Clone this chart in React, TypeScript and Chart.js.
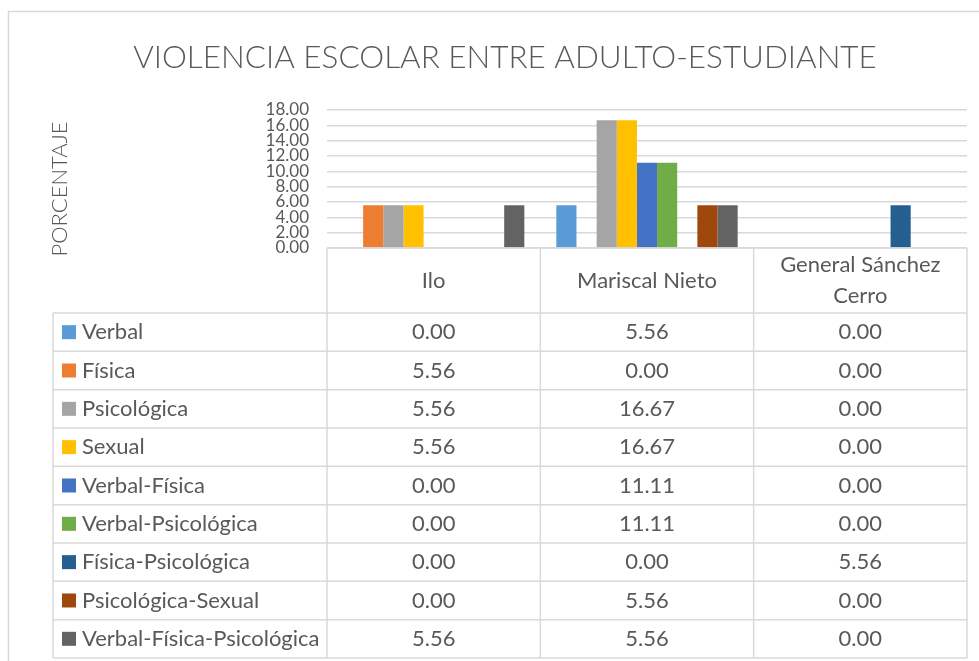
import React, { useEffect, useRef } from 'react';
import { Chart, registerables } from 'chart.js';

Chart.register(...registerables);

const TITLE = 'VIOLENCIA ESCOLAR ENTRE ADULTO-ESTUDIANTE';
const Y_TITLE = 'PORCENTAJE';
const categories = [['Ilo'], ['Mariscal Nieto'], ['General Sánchez', 'Cerro']];
const seriesNames = [
  'Verbal',
  'Física',
  'Psicológica',
  'Sexual',
  'Verbal-Física',
  'Verbal-Psicológica',
  'Física-Psicológica',
  'Psicológica-Sexual',
  'Verbal-Física-Psicológica',
];
const seriesColors = [
  '#5B9BD5',
  '#ED7D31',
  '#A5A5A5',
  '#FFC000',
  '#4472C4',
  '#70AD47',
  '#255E91',
  '#9E480E',
  '#636363',
];
const verbal = [0.0, 5.56, 0.0];
const fisica = [5.56, 0.0, 0.0];
const psicologica = [5.56, 16.67, 0.0];
const sexual = [5.56, 16.67, 0.0];
const verbalFisica = [0.0, 11.11, 0.0];
const verbalPsicologica = [0.0, 11.11, 0.0];
const fisicaPsicologica = [0.0, 0.0, 5.56];
const psicologicaSexual = [0.0, 5.56, 0.0];
const verbalFisicaPsicologica = [5.56, 5.56, 0.0];
const seriesValues = [
  verbal,
  fisica,
  psicologica,
  sexual,
  verbalFisica,
  verbalPsicologica,
  fisicaPsicologica,
  psicologicaSexual,
  verbalFisicaPsicologica,
];
const yTicks = [0, 2, 4, 6, 8, 10, 12, 14, 16, 18];

const TEXT = '#595959';
const LINE = '#d9d9d9';
const FONT = 'Lato, "Open Sans", sans-serif';

const tablePlugin = {
  id: 'dataTableAndFrame',
  afterDraw(chart: any) {
    const ctx = chart.ctx as CanvasRenderingContext2D;
    const xs = chart.scales.x;
    const area = chart.chartArea;
    const n = categories.length;
    const catW = (xs.right - xs.left) / n;
    const tableLeft = 53;
    const headerTop = area.bottom;
    const headerBottom = 313;
    const rowH = 38.33;
    const tableBottom = headerBottom + rowH * seriesNames.length;
    const colEdges: number[] = [];
    for (let i = 0; i <= n; i++) {
      const c = i < n ? xs.getPixelForValue(i) - catW / 2 : xs.getPixelForValue(n - 1) + catW / 2;
      colEdges.push(c);
    }
    ctx.save();
    // outer frame
    ctx.strokeStyle = LINE;
    ctx.lineWidth = 1.5;
    ctx.beginPath();
    ctx.moveTo(8.5, 661);
    ctx.lineTo(8.5, 11.5);
    ctx.lineTo(979, 11.5);
    ctx.stroke();

    // title
    ctx.fillStyle = TEXT;
    ctx.textAlign = 'center';
    ctx.textBaseline = 'alphabetic';
    let size = 34;
    ctx.font = `300 ${size}px ${FONT}`;
    const w = ctx.measureText(TITLE).width;
    size = size * 744 / w;
    ctx.font = `300 ${size}px ${FONT}`;
    ctx.fillText(TITLE, 505, 68);

    // y axis title
    ctx.save();
    ctx.translate(67, 189);
    ctx.rotate(-Math.PI / 2);
    ctx.font = `300 22px ${FONT}`;
    ctx.textBaseline = 'alphabetic';
    ctx.fillText(Y_TITLE, 0, 0);
    ctx.restore();

    // table lines
    ctx.strokeStyle = LINE;
    ctx.lineWidth = 1.5;
    ctx.beginPath();
    ctx.moveTo(colEdges[0], headerTop);
    ctx.lineTo(colEdges[n], headerTop);
    for (let i = 0; i <= n; i++) {
      ctx.moveTo(colEdges[i], headerTop);
      ctx.lineTo(colEdges[i], tableBottom);
    }
    ctx.moveTo(tableLeft, headerBottom);
    ctx.lineTo(tableLeft, tableBottom);
    for (let r = 0; r <= seriesNames.length; r++) {
      const y = headerBottom + r * rowH;
      ctx.moveTo(tableLeft, y);
      ctx.lineTo(colEdges[n], y);
    }
    ctx.stroke();

    // header text
    ctx.fillStyle = TEXT;
    ctx.font = `22px ${FONT}`;
    ctx.textAlign = 'center';
    ctx.textBaseline = 'middle';
    const hMid = (headerTop + headerBottom) / 2;
    for (let i = 0; i < n; i++) {
      const lines = categories[i];
      const cx = (colEdges[i] + colEdges[i + 1]) / 2;
      const lh = 31;
      lines.forEach((t, k) => {
        ctx.fillText(t, cx, hMid + (k - (lines.length - 1) / 2) * lh);
      });
    }

    // rows
    seriesNames.forEach((name, r) => {
      const cy = headerBottom + r * rowH + rowH / 2;
      ctx.fillStyle = seriesColors[r];
      ctx.fillRect(62, cy - 7, 14, 14);
      ctx.fillStyle = TEXT;
      ctx.textAlign = 'left';
      ctx.fillText(name, 82, cy);
      ctx.textAlign = 'center';
      seriesValues[r].forEach((v, i) => {
        const cx = (colEdges[i] + colEdges[i + 1]) / 2;
        ctx.fillText(v.toFixed(2), cx, cy);
      });
    });
    ctx.restore();
  },
};

export default function App() {
  const ref = useRef<HTMLCanvasElement>(null);
  useEffect(() => {
    if (!ref.current) return;
    const chart = new Chart(ref.current, {
      type: 'bar',
      data: {
        labels: categories.map((c) => c.join(' ')),
        datasets: seriesNames.map((name, i) => ({
          label: name,
          data: seriesValues[i],
          backgroundColor: seriesColors[i],
          borderWidth: 0,
          categoryPercentage: 0.85,
          barPercentage: 1.0,
        })),
      },
      options: {
        animation: false,
        responsive: false,
        maintainAspectRatio: false,
        layout: { padding: { left: 0, top: 110, right: 12, bottom: 413 } },
        plugins: {
          legend: { display: false },
          title: { display: false },
          tooltip: { enabled: false },
        },
        scales: {
          x: {
            display: false,
          },
          y: {
            min: yTicks[0],
            max: yTicks[yTicks.length - 1],
            afterFit: (scale: any) => {
              scale.width = 327;
            },
            afterBuildTicks: (scale: any) => {
              scale.ticks = yTicks.map((v) => ({ value: v }));
            },
            border: { display: false },
            grid: { color: LINE, lineWidth: 1.5, drawTicks: false },
            ticks: {
              autoSkip: false,
              padding: 18,
              color: TEXT,
              font: { family: FONT, size: 17, lineHeight: 1 },
              callback: (v: any) => Number(v).toFixed(2),
            },
          },
        },
      },
      plugins: [tablePlugin],
    });
    return () => chart.destroy();
  }, []);
  return (
    <div style={{ position: 'fixed', left: 0, top: 0, width: 979, height: 661, background: '#fff' }}>
      <canvas ref={ref} width={979} height={661} style={{ display: 'block', width: 979, height: 661 }} />
    </div>
  );
}
